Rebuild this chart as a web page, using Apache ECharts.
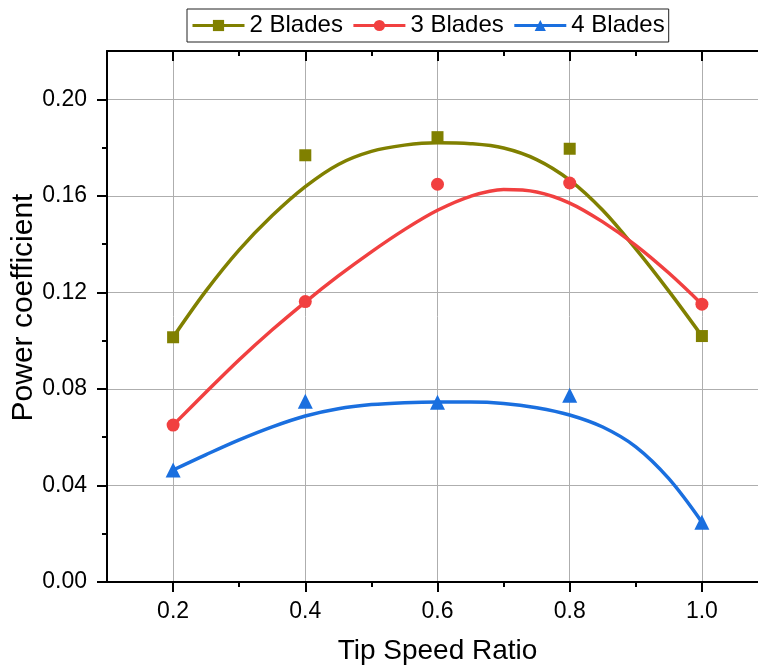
<!DOCTYPE html>
<html><head><meta charset="utf-8">
<script src="https://cdn.jsdelivr.net/npm/echarts@6/dist/echarts.min.js"></script>
<style>html,body{margin:0;padding:0;background:#fff}#c{width:758px;height:665px}</style>
</head><body><div id="c"></div>
<script>
// measured points
const tsr = [0.2, 0.4, 0.6, 0.8, 1.0];
const cp2 = [0.1014, 0.1768, 0.1843, 0.1795, 0.1019];
const cp3 = [0.0650, 0.1162, 0.1648, 0.1653, 0.1151];
const cp4 = [0.0464, 0.0749, 0.0745, 0.0774, 0.0248];
// fitted curves
const fitX = [0.2, 0.25, 0.3, 0.35, 0.4, 0.45, 0.5, 0.55, 0.6, 0.65, 0.7, 0.75, 0.8, 0.85, 0.9, 0.95, 1.0];
const fit2 = [0.1014, 0.1207, 0.1376, 0.1518, 0.1638, 0.1730, 0.1784, 0.1810, 0.1820, 0.1816, 0.1798, 0.1750, 0.1665, 0.1540, 0.1380, 0.1205, 0.1019];
const fit3 = [0.0650, 0.0787, 0.0921, 0.1045, 0.1160, 0.1268, 0.1368, 0.1460, 0.1540, 0.1598, 0.1626, 0.1616, 0.1570, 0.1492, 0.1395, 0.1280, 0.1151];
const fit4 = [0.0464, 0.0528, 0.0589, 0.0643, 0.0688, 0.0718, 0.0735, 0.0743, 0.0746, 0.0746, 0.0740, 0.0722, 0.0692, 0.0642, 0.0560, 0.0428, 0.0248];
const seriesNames = ['2 Blades', '3 Blades', '4 Blades'];
const xTicks = [0.2, 0.4, 0.6, 0.8, 1.0];
const yTicks = [0, 0.04, 0.08, 0.12, 0.16, 0.20];

const colors = ['#808000', '#F14040', '#1A6FDF'];
const symbols = ['rect', 'circle', 'triangle'];
const symSizes = [12, 13, 15];
const FONT = "'Liberation Sans', Arial, Helvetica, sans-serif";

const points = [cp2, cp3, cp4];
const fits = [fit2, fit3, fit4];
const series = [];
seriesNames.forEach((n, i) => {
  series.push({
    name: n, type: 'line', xAxisIndex: 0, yAxisIndex: 0,
    data: fitX.map((x, j) => [x, fits[i][j]]),
    smooth: 0.35, symbol: symbols[i], showSymbol: false,
    lineStyle: { width: 3.5, color: colors[i] },
    itemStyle: { color: colors[i] }, z: 2
  });
});
seriesNames.forEach((n, i) => {
  series.push({
    name: n, type: 'scatter', xAxisIndex: 0, yAxisIndex: 0,
    data: tsr.map((x, j) => [x, points[i][j]]),
    symbol: symbols[i], symbolSize: symSizes[i],
    itemStyle: { color: colors[i], opacity: 1 }, z: 3
  });
});

const axisBlack = { color: '#000', width: 2 };
const chart = echarts.init(document.getElementById('c'));
chart.setOption({
  animation: false,
  backgroundColor: '#fff',
  grid: { left: 107, top: 51, width: 661, height: 531, containLabel: false, outerBoundsMode: 'none' },
  legend: {
    data: seriesNames, left: 187, top: 9, orient: 'horizontal',
    itemWidth: 52, itemHeight: 14, itemGap: 9, padding: [4.5, 4],
    borderColor: '#222', borderWidth: 1, backgroundColor: '#fff',
    lineStyle: { width: 3 },
    textStyle: { fontSize: 24, color: '#000', fontFamily: FONT }
  },
  xAxis: [{
    type: 'value', position: 'bottom', min: 0.1, max: 1.1, splitNumber: 5,
    axisLine: { onZero: false, lineStyle: axisBlack },
    axisTick: { inside: false, length: 10, lineStyle: axisBlack, customValues: xTicks },
    minorTick: { show: true, splitNumber: 2, length: 5, lineStyle: axisBlack },
    axisLabel: { customValues: xTicks, formatter: v => v.toFixed(1), fontSize: 23, color: '#000', margin: 18, fontFamily: FONT },
    splitLine: { show: true, lineStyle: { color: '#aeaeae', width: 1 } },
    name: 'Tip Speed Ratio', nameLocation: 'middle', nameGap: 55, nameMoveOverlap: false,
    nameTextStyle: { fontSize: 28, color: '#000', fontFamily: FONT }
  }, {
    type: 'value', position: 'top', min: 0.1, max: 1.1, splitNumber: 5,
    axisLine: { onZero: false, lineStyle: axisBlack },
    axisTick: { inside: true, length: 10, lineStyle: axisBlack, customValues: xTicks },
    minorTick: { show: true, splitNumber: 2, length: 5, lineStyle: axisBlack },
    axisLabel: { show: false },
    splitLine: { show: false }
  }],
  yAxis: [{
    type: 'value', position: 'left', min: 0, max: 0.22, interval: 0.04,
    axisLine: { show: true, onZero: false, lineStyle: axisBlack },
    axisTick: { show: true, inside: false, length: 10, lineStyle: axisBlack, customValues: yTicks },
    minorTick: { show: true, splitNumber: 2, length: 5, lineStyle: axisBlack },
    axisLabel: { customValues: yTicks, formatter: v => v.toFixed(2), fontSize: 23, color: '#000', margin: 20, fontFamily: FONT },
    splitLine: { show: true, lineStyle: { color: '#aeaeae', width: 1 } },
    name: 'Power coefficient', nameLocation: 'middle', nameGap: 68, nameMoveOverlap: false,
    nameTextStyle: { fontSize: 30, color: '#000', fontFamily: FONT, padding: [0, 0, 0, 18] }
  }],
  series: series
});
</script>
</body></html>
